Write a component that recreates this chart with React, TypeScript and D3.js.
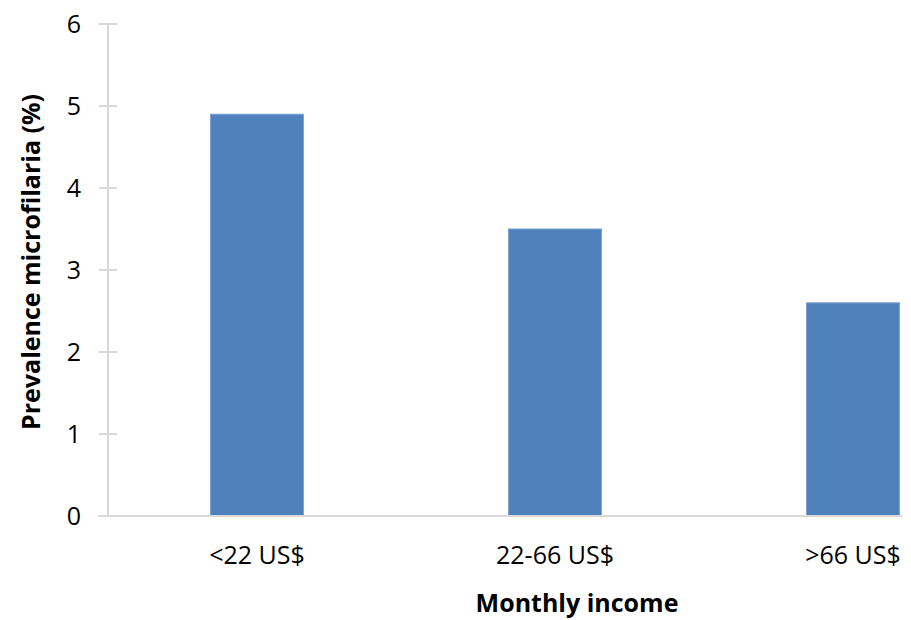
import React from "react";
import * as d3 from "d3";

const categories = ["<22 US$", "22-66 US$", ">66 US$"];
const values = [4.9, 3.5, 2.6];
const yTicks = [0, 1, 2, 3, 4, 5, 6];

const W = 911;
const H = 620;
const FONT = "'Open Sans', 'Noto Sans', sans-serif";

export default function App() {
  const x = d3.scaleBand<string>().domain(categories).range([108, 1002]).paddingInner(0.688).paddingOuter(0.344);
  const y = d3.scaleLinear().domain([0, 6]).range([516, 24]);
  return (
    <svg width={W} height={H} style={{ position: "absolute", left: 0, top: 0, background: "#fff" }}>
      <line x1={108} x2={108} y1={y(6)} y2={y(0)} stroke="#d9d9d9" strokeWidth={2} />
      {yTicks.map((t) => (
        <g key={t}>
          <line x1={99} x2={117} y1={y(t)} y2={y(t)} stroke="#d9d9d9" strokeWidth={2} />
          <text x={81} y={y(t)} dy="0.35em" textAnchor="end" fontFamily={FONT} fontSize={25} fill="#000">
            {t}
          </text>
        </g>
      ))}
      {categories.map((c, i) => (
        <rect
          key={c}
          x={x(c)!}
          y={y(values[i])}
          width={x.bandwidth()}
          height={y(0) - y(values[i])}
          fill="#4f81bd"
          stroke="#7ea3d2"
          strokeWidth={1}
        />
      ))}
      <line x1={98} x2={902} y1={y(0)} y2={y(0)} stroke="#d9d9d9" strokeWidth={2} />
      {categories.map((c) => (
        <text key={c} x={x(c)! + x.bandwidth() / 2} y={564} textAnchor="middle" fontFamily={FONT} fontSize={25} fill="#000">
          {c}
        </text>
      ))}
      <text x={577} y={612} textAnchor="middle" fontFamily={FONT} fontSize={25} fontWeight="bold" fill="#000">
        Monthly income
      </text>
      <text
        transform={`translate(40, 262) rotate(-90)`}
        textAnchor="middle"
        fontFamily={FONT}
        fontSize={25}
        fontWeight="bold"
        fill="#000"
      >
        Prevalence microfilaria (%)
      </text>
    </svg>
  );
}
